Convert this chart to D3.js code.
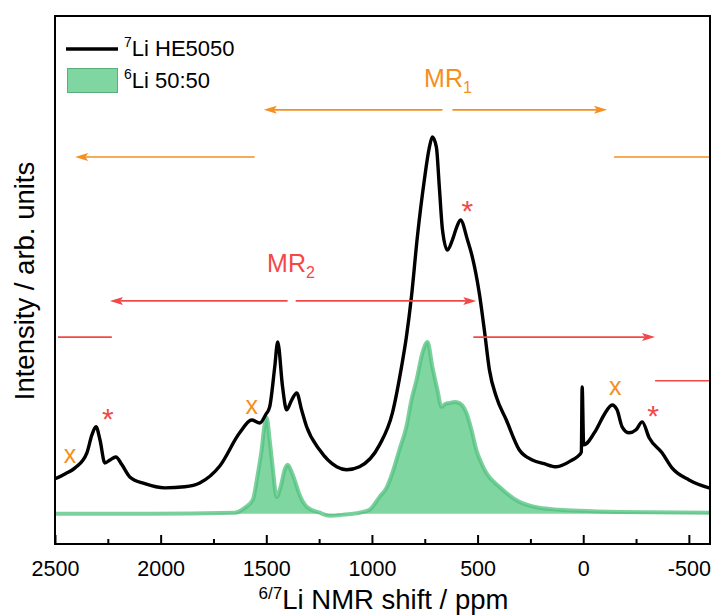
<!DOCTYPE html>
<html>
<head>
<meta charset="utf-8">
<script src="https://cdn.jsdelivr.net/npm/d3@7"></script>
<style>
html,body{margin:0;padding:0;background:#fff;}
svg{display:block;font-family:"Liberation Sans",Arial,sans-serif;}
</style>
</head>
<body>
<svg id="chart" width="714" height="616"></svg>
<script>
// ---- data ----
// 7Li HE5050 spectrum: shift (ppm) and intensity (arb.)
const li7Shift = [2500,2453,2405,2349,2325,2306,2287,2264,2240,2212,2183,2146,2075,1980,1886,1815,1720,1626,1569,1531,1503,1484,1460,1446,1423,1404,1380,1356,1333,1309,1248,1167,1120,1059,964,903,860,837,813,785,752,728,714,695,681,666,643,619,600,581,548,525,492,468,444,411,364,303,241,185,128,52,19,9,5,-2,-61,-99,-137,-160,-184,-217,-250,-279,-312,-373,-420,-501,-600];
const li7Intensity = [0.093,0.106,0.122,0.162,0.210,0.231,0.196,0.135,0.143,0.151,0.130,0.098,0.080,0.069,0.072,0.082,0.127,0.215,0.249,0.241,0.263,0.284,0.390,0.456,0.337,0.276,0.302,0.321,0.276,0.231,0.170,0.125,0.117,0.125,0.183,0.268,0.390,0.469,0.576,0.735,0.886,0.973,1.000,0.973,0.867,0.753,0.700,0.727,0.759,0.780,0.727,0.682,0.586,0.488,0.382,0.310,0.249,0.170,0.143,0.133,0.125,0.143,0.156,0.164,0.337,0.183,0.223,0.263,0.289,0.276,0.231,0.215,0.223,0.244,0.202,0.162,0.122,0.090,0.068];
// 6Li 50:50 spectrum
const li6Shift = [2500,2051,1649,1602,1564,1541,1522,1508,1498,1484,1470,1451,1432,1413,1399,1380,1366,1342,1309,1248,1200,1130,1059,1011,964,931,903,870,837,813,789,761,737,714,690,671,652,633,610,586,553,529,506,482,459,397,303,208,114,19,-170,-600];
const li6Intensity = [0,0,0.003,0.016,0.037,0.103,0.170,0.236,0.255,0.196,0.125,0.045,0.072,0.117,0.130,0.111,0.090,0.050,0.019,0.003,-0.005,-0.002,0.003,0.011,0.045,0.069,0.109,0.170,0.231,0.302,0.355,0.427,0.456,0.390,0.329,0.284,0.292,0.294,0.297,0.294,0.268,0.223,0.170,0.135,0.109,0.072,0.032,0.016,0.011,0.008,0.005,0.003];

const xTicksMajor = [2500,2000,1500,1000,500,0,-500];
const xTicksMinor = [2250,1750,1250,750,250,-250];
const xTickLabels = ["2500","2000","1500","1000","500","0","-500"];

const seriesNames = ["HE5050","50:50"];
const seriesIsotopes = ["7","6"];

// annotation arrows (ppm from, ppm to, intensity level, arrowhead at 'to')
const arrowFrom  = [666, 619, 1555, -146, 1399, 1361, 2486, 520, -340];
const arrowTo    = [1512, -113, 2405, -600, 2240, 506, 2231, -340, -600];
const arrowLevel = [1.072, 1.072, 0.947, 0.947, 0.565, 0.565, 0.469, 0.469, 0.353];
const arrowHead  = [true, true, true, false, true, true, false, true, false];
const arrowGroup = ["MR1","MR1","MR1","MR1","MR2","MR2","MR2","MR2","MR2"];

const regionLabels = ["MR","MR"];
const regionSubs = ["1","2"];
const regionShift = [640, 1383];
const regionLevel = [1.133, 0.642];

const crossShift = [2429, 1569, -151];
const crossLevel = [0.151, 0.281, 0.332];
const starShift = [2250, 548, -331];
const starLevel = [0.271, 0.822, 0.279];

// ---- layout ----
const W = 714, H = 616;
const M = {left:55, right:710, top:16, bottom:544};
const ORANGE = "#F58F20", RED = "#F44848";
const GREEN_FILL = "#80D6A1", GREEN_LINE = "#4FC07E";

const svg = d3.select("#chart");
const x = d3.scaleLinear().domain([2500,-600]).range([M.left, M.right]);
const y = d3.scaleLinear().domain([-0.08, 1.321]).range([M.bottom, M.top]);

const li7 = li7Shift.map((s,i)=>({s, v: li7Intensity[i]}));
const li6 = li6Shift.map((s,i)=>({s, v: li6Intensity[i]}));

const g = svg.append("g");
g.append("defs").append("clipPath").attr("id","clip")
  .append("rect").attr("x",M.left).attr("y",M.top).attr("width",M.right-M.left).attr("height",M.bottom-M.top);

const plot = g.append("g").attr("clip-path","url(#clip)");

// 6Li fill + line
plot.append("path").datum(li6)
  .attr("d", d3.area().x(d=>x(d.s)).y0(y(0)).y1(d=>y(d.v)).curve(d3.curveMonotoneX))
  .attr("fill", GREEN_FILL);
plot.append("path").datum(li6)
  .attr("d", d3.line().x(d=>x(d.s)).y(d=>y(d.v)).curve(d3.curveMonotoneX))
  .attr("fill","none").attr("stroke",GREEN_LINE).attr("stroke-width",4).attr("stroke-opacity",0.75)
  .attr("stroke-linejoin","round");

// 7Li line
plot.append("path").datum(li7)
  .attr("d", d3.line().x(d=>x(d.s)).y(d=>y(d.v)).curve(d3.curveMonotoneX))
  .attr("fill","none").attr("stroke","#000").attr("stroke-width",3.4)
  .attr("stroke-linejoin","round").attr("stroke-linecap","round");

// arrows
const headLen = 13, headHalf = 4;
arrowFrom.forEach((f,i)=>{
  const col = arrowGroup[i]==="MR1" ? ORANGE : RED;
  const x1 = x(f), x2 = x(arrowTo[i]), yy = y(arrowLevel[i]);
  const dir = Math.sign(x2 - x1);
  const lineEnd = arrowHead[i] ? x2 - dir*headLen*0.8 : x2;
  plot.append("line").attr("x1",x1).attr("x2",lineEnd).attr("y1",yy).attr("y2",yy)
    .attr("stroke",col).attr("stroke-width",1.6);
  if (arrowHead[i]) {
    plot.append("path")
      .attr("d", `M${x2},${yy} L${x2-dir*headLen},${yy-headHalf} L${x2-dir*headLen*0.8},${yy} L${x2-dir*headLen},${yy+headHalf} Z`)
      .attr("fill",col);
  }
});

// region labels
regionLabels.forEach((t,i)=>{
  const col = i===0 ? ORANGE : RED;
  const txt = g.append("text").attr("x",x(regionShift[i])).attr("y",y(regionLevel[i]))
    .attr("text-anchor","middle").attr("fill",col).attr("font-size",25);
  txt.append("tspan").text(t);
  txt.append("tspan").text(regionSubs[i]).attr("font-size",16).attr("dy",6);
});

// markers
crossShift.forEach((s,i)=>{
  g.append("text").attr("x",x(s)).attr("y",y(crossLevel[i])+6)
    .attr("text-anchor","middle").attr("fill",ORANGE).attr("font-size",25).text("x");
});
starShift.forEach((s,i)=>{
  g.append("text").attr("x",x(s)).attr("y",y(starLevel[i])+17)
    .attr("text-anchor","middle").attr("fill",RED).attr("font-size",30).text("*");
});

// frame
g.append("rect").attr("x",M.left).attr("y",M.top).attr("width",M.right-M.left).attr("height",M.bottom-M.top)
  .attr("fill","none").attr("stroke","#000").attr("stroke-width",2);

// x axis ticks (inward)
const xAxis = d3.axisBottom(x).tickValues(xTicksMajor).tickSize(-9).tickPadding(20)
  .tickFormat((d,i)=>xTickLabels[i]);
const ax = g.append("g").attr("transform",`translate(0,${M.bottom})`).call(xAxis);
ax.select(".domain").remove();
ax.selectAll(".tick line").attr("stroke","#000").attr("stroke-width",2);
ax.selectAll(".tick text").attr("font-size",21.5).attr("fill","#000")
  .attr("font-family",'"Liberation Sans",Arial,sans-serif').attr("dy",null).attr("y",32);
const axMinor = d3.axisBottom(x).tickValues(xTicksMinor).tickSize(-5).tickFormat("");
const am = g.append("g").attr("transform",`translate(0,${M.bottom})`).call(axMinor);
am.select(".domain").remove();
am.selectAll(".tick line").attr("stroke","#000").attr("stroke-width",2);

// axis titles
const xt = g.append("text").attr("x",(M.left+M.right)/2+1).attr("y",609).attr("text-anchor","middle")
  .attr("font-size",27.5).attr("fill","#000");
xt.append("tspan").text("6/7").attr("font-size",17).attr("dy",-10);
xt.append("tspan").text("Li NMR shift / ppm").attr("dy",10);

g.append("text").attr("transform",`translate(34,281) rotate(-90)`).attr("text-anchor","middle")
  .attr("font-size",27.5).attr("fill","#000").text("Intensity / arb. units");

// legend
const lg = g.append("g");
lg.append("line").attr("x1",66).attr("x2",118).attr("y1",49).attr("y2",49)
  .attr("stroke","#000").attr("stroke-width",3.4);
lg.append("rect").attr("x",67.5).attr("y",68.5).attr("width",50).attr("height",24)
  .attr("fill",GREEN_FILL).attr("stroke","#5AAE7C").attr("stroke-width",1);
[56, 88].forEach((by,i)=>{
  const t = lg.append("text").attr("x",124).attr("y",by).attr("font-size",22).attr("fill","#000");
  t.append("tspan").text(seriesIsotopes[i]).attr("font-size",14).attr("dy",-9);
  t.append("tspan").text("Li " + seriesNames[i]).attr("dy",9);
});
</script>
</body>
</html>
